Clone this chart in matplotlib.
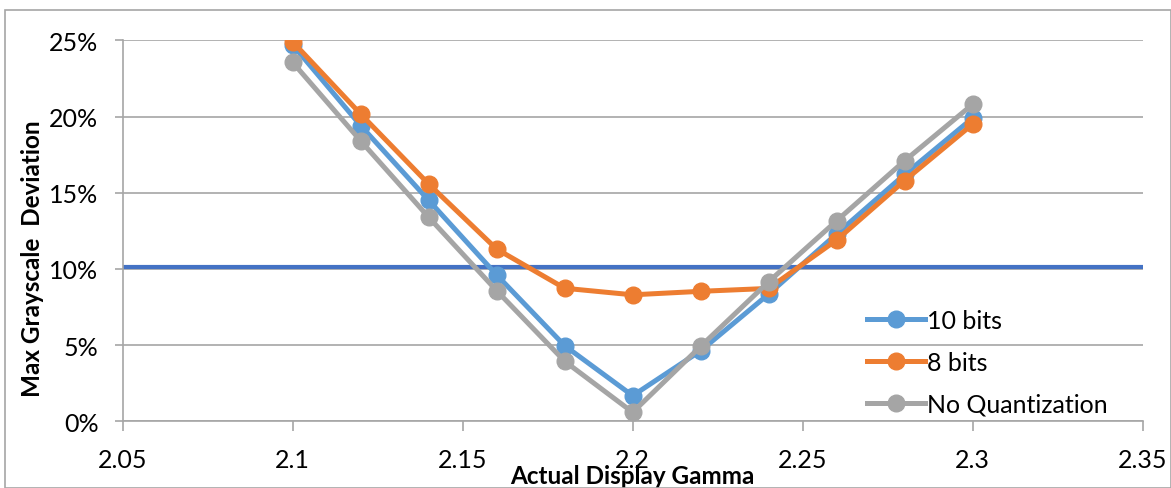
import numpy as np
import matplotlib
matplotlib.use("Agg")
import matplotlib.pyplot as plt
from matplotlib.patches import Rectangle
from matplotlib.ticker import FuncFormatter

plt.rcParams['font.family'] = ['Lato', 'DejaVu Sans']

# Data
gamma = [2.10, 2.12, 2.14, 2.16, 2.18, 2.20, 2.22, 2.24, 2.26, 2.28, 2.30]
bits10 = [24.7, 19.4, 14.5, 9.6, 4.96, 1.68, 4.63, 8.35, 12.3, 16.2, 19.9]
bits8 = [24.9, 20.16, 15.57, 11.3, 8.73, 8.3, 8.53, 8.72, 11.9, 15.8, 19.5]
no_quant = [23.55, 18.4, 13.39, 8.57, 3.94, 0.59, 4.92, 9.16, 13.16, 17.1, 20.8]
threshold = 10.1

series_names = ["10 bits", "8 bits", "No Quantization"]
series_colors = ["#5B9BD5", "#ED7D31", "#A5A5A5"]

xticks = [2.05, 2.1, 2.15, 2.2, 2.25, 2.3, 2.35]
yticks = [0, 5, 10, 15, 20, 25]

fig = plt.figure(figsize=(11.71, 4.89), dpi=100)
ax = fig.add_axes([0.1048, 0.1364, 0.871, 0.7791])

# outer frame of the chart
fig.patches.append(Rectangle((5 / 1171, 0), 1 - 5 / 1171, 1 - 11 / 489,
                             transform=fig.transFigure, fill=False,
                             edgecolor="#A6A6A6", linewidth=1.2))

for vals, name, col in zip([bits10, bits8, no_quant], series_names, series_colors):
    ax.plot(gamma, vals, color=col, linewidth=3.6, marker='o',
            markersize=12, label=name, zorder=3)

ax.axhline(threshold, color="#4472C4", linewidth=3, zorder=2)

ax.set_xlim(2.05, 2.35)
ax.set_ylim(0, 25)
ax.set_xticks(xticks)
ax.set_xticklabels(["2.05", "2.1", "2.15", "2.2", "2.25", "2.3", "2.35"])
ax.set_yticks(yticks)
ax.yaxis.set_major_formatter(FuncFormatter(lambda v, p: f"{v:.0f}%"))

ax.grid(axis='y', color="#A6A6A6", linewidth=1.2, zorder=0)
ax.set_axisbelow(True)
for s in ["top", "right"]:
    ax.spines[s].set_visible(False)
for s in ["left", "bottom"]:
    ax.spines[s].set_color("#A6A6A6")
    ax.spines[s].set_linewidth(1.2)

ax.tick_params(axis='x', length=7, width=1.2, color="#A6A6A6", pad=12,
               labelsize=18)
ax.tick_params(axis='y', length=5.5, width=1.2, color="#A6A6A6", pad=12,
               labelsize=18)

ax.set_xlabel("Actual Display Gamma", fontsize=17.5, fontweight='bold',
              va='center')
ax.xaxis.set_label_coords(0.5, -0.143)
ax.set_ylabel("Max Grayscale  Deviation", fontsize=17.5, fontweight='bold')
ax.yaxis.set_label_coords(-0.077, 0.43)

ax.legend(loc='center left', bbox_to_anchor=(0.708, 0.155), frameon=False,
          fontsize=18, handlelength=2.3, handletextpad=0.1,
          labelspacing=0.75)

fig.savefig("out.png", dpi=100)
